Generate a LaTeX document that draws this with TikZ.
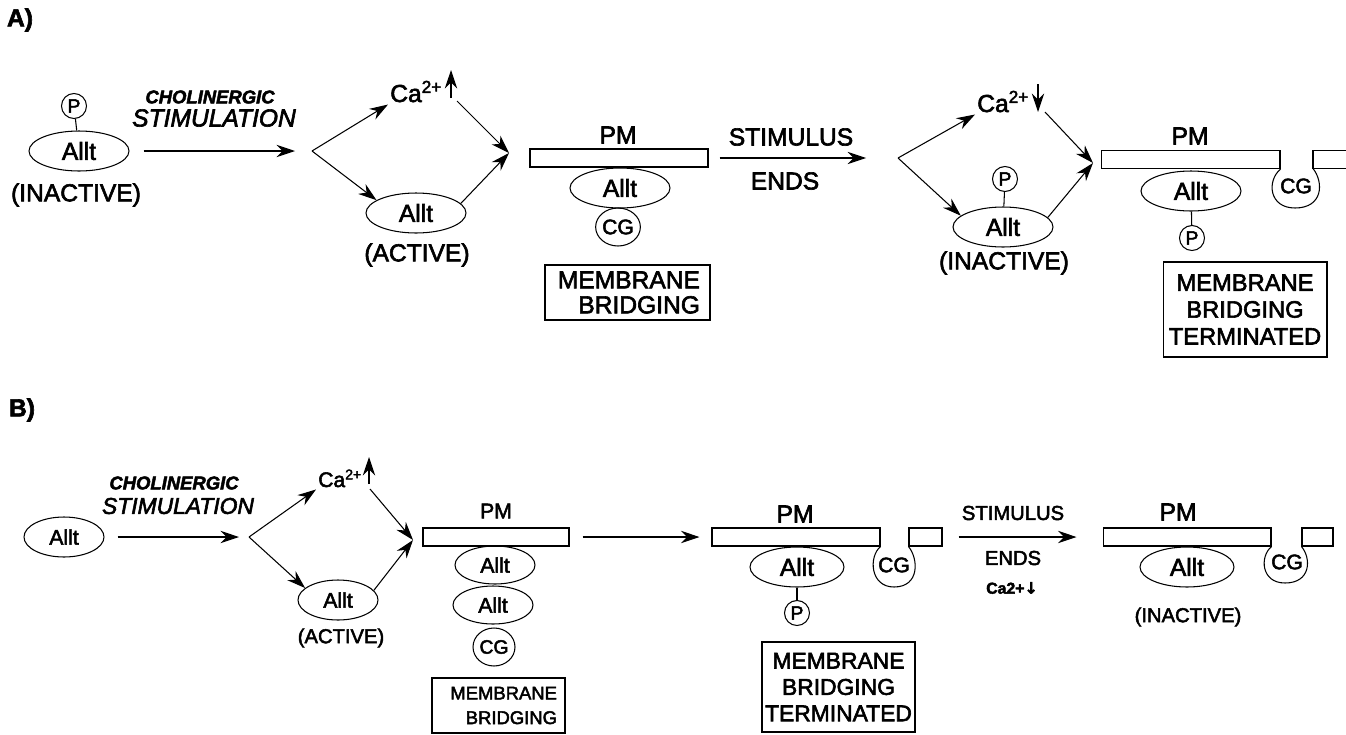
\documentclass[tikz,border=0pt]{standalone}
\usepackage{fontspec}
\setmainfont{Liberation Sans}[FakeBold=2.5]
\newfontfamily\symfnt{DejaVu Sans}[FakeBold=2.5]
\usepackage{tikz}
\usetikzlibrary{arrows.meta, calc, positioning, shapes.geometric}

\tikzset{
  txtbig/.style={font=\fontsize{14}{16}\selectfont},
  txtmid/.style={font=\fontsize{12}{14}\selectfont},
  txtsml/.style={font=\fontsize{11.5}{13}\selectfont},
  txtP/.style={font=\fontsize{11}{12}\selectfont},
  txtcg/.style={font=\fontsize{12}{14}\selectfont},
  panel/.style={font=\fontsize{14}{16}\selectfont\bfseries},
  allt/.style={draw, ellipse, minimum width=2cm, minimum height=0.8cm, inner sep=0pt},
  alltsm/.style={allt, minimum width=1.6cm},
  alltmd/.style={allt, minimum width=1.88cm},
  phos/.style={draw, circle, minimum size=0.5cm, inner sep=0pt, txtP},
  cgball/.style={draw, ellipse, minimum width=0.84cm, minimum height=0.76cm, inner sep=0pt},
  pmbar/.style={draw, rectangle, minimum height=0.36cm, inner sep=0pt},
  infobox/.style={draw, rectangle, inner sep=0pt},
  flow/.style={-{Stealth[length=10.5pt, width=7pt]}},
}

\begin{document}
\begin{tikzpicture}[x=0.02cm, y=-0.02cm, line width=0.6pt]
    \fill[white] (0,0) rectangle (1346,734);
    \useasboundingbox (0,0) rectangle (1346,734);

    % 面板 A
    \node[panel] (labA) at (20,20) {A)};

    % 初始状态
    \node[allt, txtbig] (alltA0) at (79,151) {Allt};
    \node[phos] (pA0) at (74,106) {P};
    \draw (pA0) -- (alltA0);
    \node[txtbig] (inactA0) at (76,195) {(INACTIVE)};

    \coordinate (forkA1) at (312,151);
    \draw[flow, shorten <=0.28cm, shorten >=0.34cm] (alltA0.east) -- (forkA1);
    \node[font=\fontsize{10.5}{12}\selectfont\bfseries\itshape] (cholA) at (210,97) {CHOLINERGIC};
    \node[font=\fontsize{14}{16}\selectfont\itshape] (stimA) at (214,118) {STIMULATION};

    % 分支: Ca 升高, Allt 活化
    \node[txtbig, inner sep=1pt, anchor=base west] (caA1) at (388,102) {Ca\textsuperscript{2+}};
    \coordinate (upA1) at (451,98);
    \draw[flow] (upA1) -- ++(0,-28);
    \node[allt, txtbig] (alltA1) at (416,213) {Allt};
    \node[txtbig] (actA1) at (417,255) {(ACTIVE)};
    \coordinate (joinA1) at (509,153);
    \draw[flow] (forkA1) -- (caA1.south west);
    \draw[flow] (forkA1) -- (alltA1.162);
    \draw[flow] ($(upA1)+(6,3)$) -- (joinA1);
    \draw[flow] (alltA1.12) -- (joinA1);

    % 膜桥接
    \node[pmbar, minimum width=3.56cm] (pmA1) at (619,158) {};
    \node[txtbig] (pmlA1) at (618,135) {PM};
    \node[allt, txtbig] (alltA2) at (620,188) {Allt};
    \node[cgball, txtcg] (cgA1) at (618,227) {CG};
    \node[infobox, font=\fontsize{14}{14.2}\selectfont, minimum width=3.3cm, minimum height=1.1cm,
          text width=2.9cm, align=right] (boxA1) at (627.5,292.5) {MEMBRANE\\BRIDGING};

    % 刺激结束
    \coordinate (forkA2) at (898,158);
    \draw[flow, shorten <=0.22cm, shorten >=0.64cm] (pmA1.east) -- (forkA2);
    \node[txtbig] (stimA2) at (791,137) {STIMULUS};
    \node[txtbig] (endsA2) at (785,181) {ENDS};

    \node[txtbig, inner sep=1pt, anchor=base west] (caA2) at (975,112) {Ca\textsuperscript{2+}};
    \coordinate (dnA2) at (1038,84);
    \draw[flow] (dnA2) -- ++(0,28);
    \node[allt, txtbig] (alltA3) at (1003,227) {Allt};
    \node[phos] (pA2) at (1005,179) {P};
    \draw (pA2) -- (alltA3);
    \node[txtbig] (inactA3) at (1004,263) {(INACTIVE)};
    \coordinate (joinA2) at (1093,163);
    \draw[flow] (forkA2) -- (caA2.south west);
    \draw[flow] (forkA2) -- (alltA3.165);
    \draw[flow] ($(dnA2)+(7,28)$) -- (joinA2);
    \draw[flow] (alltA3.12) -- (joinA2);

    % 膜桥接终止
    \node[pmbar, minimum width=3.58cm] (pmA2) at (1190.5,159.5) {};
    \coordinate (pmA2r) at (1313,168.5);
    \draw (1346,150.5) -| (pmA2r) -- (1346,168.5);
    \coordinate (bulbA2) at (1295,208);
    \draw (pmA2.south east) .. controls +(-14,12) and +(-26,0) .. (bulbA2)
          .. controls +(28,0) and +(11,14) .. (pmA2r);
    \node[txtcg] (cgA2) at (1296,186) {CG};
    \node[txtbig] (pmlA2) at (1190,136) {PM};
    \node[allt, txtbig] (alltA4) at (1191,191) {Allt};
    \node[phos] (pA3) at (1192,238) {P};
    \draw (alltA4) -- (pA3);
    \node[infobox, font=\fontsize{13.5}{15.3}\selectfont, minimum width=3.28cm, minimum height=1.9cm,
          align=center] (boxA2) at (1245,309.5) {MEMBRANE\\BRIDGING\\TERMINATED};

    % 面板 B
    \node[panel] (labB) at (22,410) {B)};

    \node[alltsm, txtmid] (alltB0) at (64,537) {Allt};
    \coordinate (forkB1) at (249,537);
    \draw[flow, shorten <=0.26cm, shorten >=0.2cm] (alltB0.east) -- (forkB1);
    \node[font=\fontsize{10.5}{12}\selectfont\bfseries\itshape] (cholB) at (174,483) {CHOLINERGIC};
    \node[font=\fontsize{13}{15}\selectfont\itshape] (stimB) at (178,506) {STIMULATION};

    \node[txtmid, inner sep=1pt, anchor=base west] (caB1) at (316,487) {Ca\textsuperscript{2+}};
    \coordinate (upB1) at (369,484);
    \draw[flow] (upB1) -- ++(0,-27);
    \node[alltsm, txtmid] (alltB1) at (338,600) {Allt};
    \node[txtsml] (actB1) at (341,638) {(ACTIVE)};
    \coordinate (joinB1) at (413,540);
    \draw[flow] (forkB1) -- (caB1.south west);
    \draw[flow] (forkB1) -- (alltB1.160);
    \draw[flow] ($(upB1)+(1,5)$) -- (joinB1);
    \draw[flow] (alltB1.15) -- (joinB1);

    \node[pmbar, minimum width=2.92cm] (pmB1) at (496,537) {};
    \node[txtmid] (pmlB1) at (496,511) {PM};
    \node[alltsm, txtmid, minimum height=0.76cm] (alltB2) at (495,565) {Allt};
    \node[alltsm, txtmid, minimum height=0.76cm] (alltB3) at (493,605) {Allt};
    \node[cgball, font=\fontsize{11}{12}\selectfont] (cgB1) at (494,647) {CG};
    \node[infobox, font=\fontsize{10.5}{14}\selectfont, minimum width=2.66cm, minimum height=1.1cm,
          text width=2.34cm, align=right] (boxB1) at (498.5,705.5) {MEMBRANE\\BRIDGING};

    \node[pmbar, minimum width=3.36cm] (pmB2) at (796,537) {};
    \node[pmbar, minimum width=0.66cm] (pmB2r) at (925.5,537) {};
    \draw[flow, shorten <=0.26cm, shorten >=0.24cm] (pmB1.east) -- (pmB2.west);
    \coordinate (bulbB2) at (894,587);
    \draw (pmB2.south east) .. controls +(-12,10) and +(-24,0) .. (bulbB2)
          .. controls +(26,0) and +(10,12) .. (pmB2r.south west);
    \node[txtcg] (cgB2) at (894,565) {CG};
    \node[txtbig] (pmlB2) at (795,514) {PM};
    \node[alltmd, txtbig] (alltB4) at (797,567) {Allt};
    \node[phos] (pB1) at (797,613) {P};
    \draw (alltB4) -- (pB1);
    \node[infobox, font=\fontsize{13}{15}\selectfont, minimum width=3.06cm, minimum height=1.8cm,
          align=center] (boxB2) at (838.5,687) {MEMBRANE\\BRIDGING\\TERMINATED};

    \node[pmbar, minimum width=3.36cm] (pmB3) at (1187,537) {};
    \node[pmbar, minimum width=0.62cm] (pmB3r) at (1317.5,537) {};
    \draw[flow, shorten <=0.32cm, shorten >=0.52cm] (pmB2r.east) -- (pmB3.west);
    \node[txtsml] (stimB2) at (1013,513) {STIMULUS};
    \node[txtsml] (endsB2) at (1013,558) {ENDS};
    \node[font=\fontsize{9}{11}\selectfont\bfseries] (caB2) at (1012,588) {Ca2+{\symfnt ↓}};

    \coordinate (bulbB3) at (1285,583);
    \draw (pmB3.south east) .. controls +(-12,10) and +(-24,0) .. (bulbB3)
          .. controls +(26,0) and +(10,12) .. (pmB3r.south west);
    \node[txtcg] (cgB3) at (1287,562) {CG};
    \node[txtbig] (pmlB3) at (1178,512) {PM};
    \node[alltmd, txtbig] (alltB5) at (1187,567) {Allt};
    \node[txtsml] (inactB5) at (1188,617) {(INACTIVE)};
\end{tikzpicture}
\end{document}
